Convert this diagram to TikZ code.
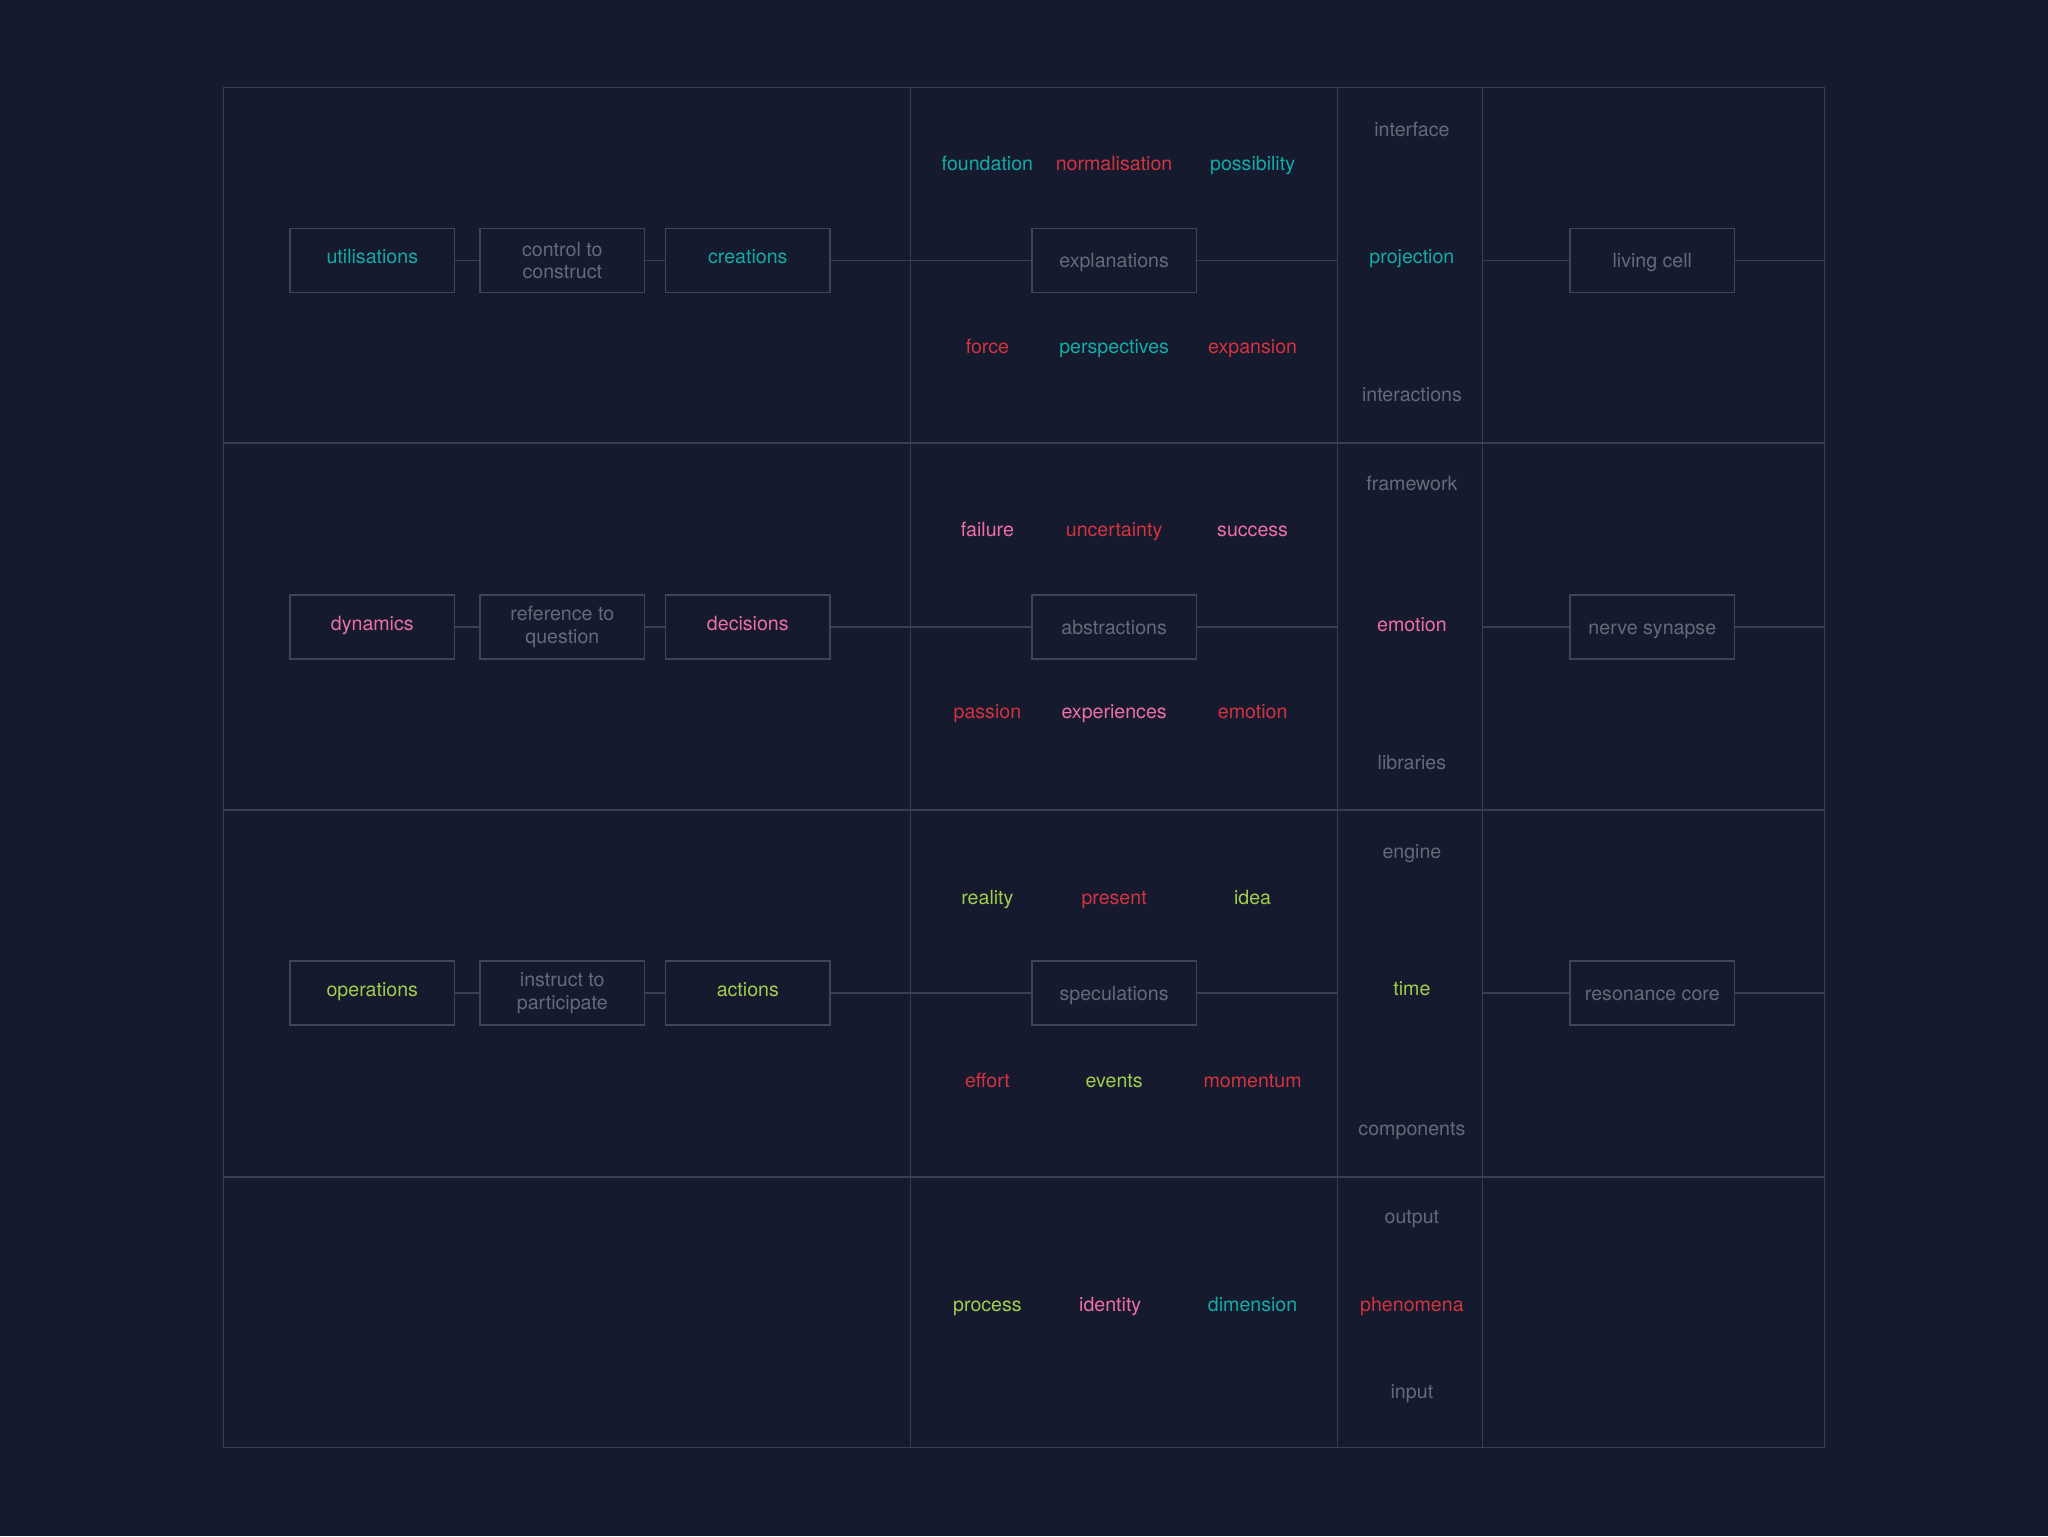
\documentclass[tikz,border=0pt]{standalone}
\usepackage{fontspec}
\setmainfont{TeX Gyre Heros}
\definecolor{bgc}{HTML}{151A2E}
\definecolor{gridc}{HTML}{393E50}
\definecolor{boxc}{HTML}{3F4456}
\definecolor{grayt}{HTML}{656A7A}
\definecolor{tealt}{HTML}{13ACA4}
\definecolor{redt}{HTML}{D2333F}
\definecolor{pinkt}{HTML}{EE6EA6}
\definecolor{greent}{HTML}{A2CD4B}
\tikzset{
  gridline/.style={draw=gridc, line width=0.7pt},
  conn/.style={draw=gridc, line width=0.75pt},
  lbl/.style={inner sep=0pt, text height=7.05pt, text depth=0pt, font=\fontsize{9.8}{11.2}\selectfont},
  boxnode/.style={draw=boxc, fill=bgc, line width=0.75pt, minimum width=82.2pt, minimum height=32pt,
    inner sep=0pt, align=center, font=\fontsize{9.8}{11.2}\selectfont},
  onebox/.style={boxnode, text height=7.05pt, text depth=0pt},
  hibox/.style={boxnode, text height=7.05pt, text depth=4pt},
}
\begin{document}
\begin{tikzpicture}[x=0.5pt, y=-0.5pt]
\useasboundingbox (0,0) rectangle (2048,1536);
\fill[bgc] (0,0) rectangle (2048,1536);
% grid
\draw[gridline] (223.3,87.5) rectangle (1824.6,1447.2);
\foreach \yy in {442.8,809.8,1176.8} \draw[gridline] (223.3,\yy) -- (1824.6,\yy);
\foreach \xx in {910.4,1337.5,1482.4} \draw[gridline] (\xx,87.5) -- (\xx,1447.2);

% ---------- row 1 ----------
\node[hibox, text=tealt] (u1) at (372.3,260.6) {utilisations};
\node[boxnode, text=grayt] (c1) at (562.3,260.6) {control to\\construct};
\node[hibox, text=tealt] (r1) at (747.8,260.6) {creations};
\node[onebox, text=grayt] (e1) at (1114.1,260.6) {explanations};
\node[onebox, text=grayt] (l1) at (1652.3,260.6) {living cell};
\coordinate (a1) at (1337.5,260.6);
\coordinate (b1) at (1482.4,260.6);
\coordinate (z1) at (1824.6,260.6);
\draw[conn] (u1) -- (c1); \draw[conn] (c1) -- (r1); \draw[conn] (r1) -- (e1);
\draw[conn] (e1) -- (a1); \draw[conn] (b1) -- (l1); \draw[conn] (l1) -- (z1);
\node[lbl, text=tealt] (t11) at (987.4,163.3) {foundation};
\node[lbl, text=redt] (t12) at (1114.1,163.3) {normalisation};
\node[lbl, text=tealt] (t13) at (1252.6,163.3) {possibility};
\node[lbl, text=redt] (t14) at (987.4,346.1) {force};
\node[lbl, text=tealt] (t15) at (1114.1,346.1) {perspectives};
\node[lbl, text=redt] (t16) at (1252.6,346.1) {expansion};
\node[lbl, text=grayt] (s11) at (1411.9,129.3) {interface};
\node[lbl, text=tealt] (s12) at (1411.9,256) {projection};
\node[lbl, text=grayt] (s13) at (1411.9,394.4) {interactions};

% ---------- row 2 ----------
\node[hibox, text=pinkt] (u2) at (372.3,627) {dynamics};
\node[boxnode, text=grayt] (c2) at (562.3,627) {reference to\\question};
\node[hibox, text=pinkt] (r2) at (747.8,627) {decisions};
\node[onebox, text=grayt] (e2) at (1114.1,627) {abstractions};
\node[onebox, text=grayt] (l2) at (1652.3,627) {nerve synapse};
\coordinate (a2) at (1337.5,627);
\coordinate (b2) at (1482.4,627);
\coordinate (z2) at (1824.6,627);
\draw[conn] (u2) -- (c2); \draw[conn] (c2) -- (r2); \draw[conn] (r2) -- (e2);
\draw[conn] (e2) -- (a2); \draw[conn] (b2) -- (l2); \draw[conn] (l2) -- (z2);
\node[lbl, text=pinkt] (t21) at (987.4,529) {failure};
\node[lbl, text=redt] (t22) at (1114.1,529) {uncertainty};
\node[lbl, text=pinkt] (t23) at (1252.6,529) {success};
\node[lbl, text=redt] (t24) at (987.4,711.8) {passion};
\node[lbl, text=pinkt] (t25) at (1114.1,711.8) {experiences};
\node[lbl, text=redt] (t26) at (1252.6,711.8) {emotion};
\node[lbl, text=grayt] (s21) at (1411.9,483.3) {framework};
\node[lbl, text=pinkt] (s22) at (1411.9,624.3) {emotion};
\node[lbl, text=grayt] (s23) at (1411.9,762.8) {libraries};

% ---------- row 3 ----------
\node[hibox, text=greent] (u3) at (372.3,993) {operations};
\node[boxnode, text=grayt] (c3) at (562.3,993) {instruct to\\participate};
\node[hibox, text=greent] (r3) at (747.8,993) {actions};
\node[onebox, text=grayt] (e3) at (1114.1,993) {speculations};
\node[onebox, text=grayt] (l3) at (1652.3,993) {resonance core};
\coordinate (a3) at (1337.5,993);
\coordinate (b3) at (1482.4,993);
\coordinate (z3) at (1824.6,993);
\draw[conn] (u3) -- (c3); \draw[conn] (c3) -- (r3); \draw[conn] (r3) -- (e3);
\draw[conn] (e3) -- (a3); \draw[conn] (b3) -- (l3); \draw[conn] (l3) -- (z3);
\node[lbl, text=greent] (t31) at (987.4,897.3) {reality};
\node[lbl, text=redt] (t32) at (1114.1,897.3) {present};
\node[lbl, text=greent] (t33) at (1252.6,897.3) {idea};
\node[lbl, text=redt] (t34) at (987.4,1080.2) {effort};
\node[lbl, text=greent] (t35) at (1114.1,1080.2) {events};
\node[lbl, text=redt] (t36) at (1252.6,1080.2) {momentum};
\node[lbl, text=grayt] (s31) at (1411.9,851.6) {engine};
\node[lbl, text=greent] (s32) at (1411.9,988.7) {time};
\node[lbl, text=grayt] (s33) at (1411.9,1128.5) {components};

% ---------- row 4 ----------
\node[lbl, text=greent] (t41) at (987.4,1304.8) {process};
\node[lbl, text=pinkt] (t42) at (1110.2,1304.8) {identity};
\node[lbl, text=tealt] (t43) at (1252.6,1304.8) {dimension};
\node[lbl, text=grayt] (s41) at (1411.9,1216) {output};
\node[lbl, text=redt] (s42) at (1411.9,1304.8) {phenomena};
\node[lbl, text=grayt] (s43) at (1411.9,1391) {input};
\end{tikzpicture}
\end{document}
